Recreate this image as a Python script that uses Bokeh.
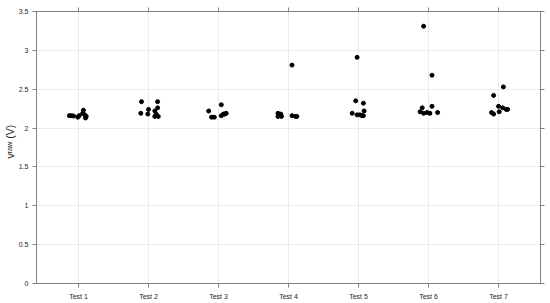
from bokeh.plotting import figure
from bokeh.models import FixedTicker, LinearAxis, Range1d, ColumnDataSource
from bokeh.embed import file_html
from bokeh.resources import INLINE

# ---- data ----
test_labels = ["Test 1", "Test 2", "Test 3", "Test 4", "Test 5", "Test 6", "Test 7"]
y_ticks = [0, 0.5, 1, 1.5, 2, 2.5, 3, 3.5]
y_tick_labels = ["0", "0.5", "1", "1.5", "2", "2.5", "3", "3.5"]

# jitter offsets (category units) and v_raw values (V) per test
t1_jit = [-0.13, -0.10, -0.07, -0.01, 0.01, 0.06, 0.07, 0.09, 0.10, 0.11]
t1_val = [2.16, 2.16, 2.155, 2.14, 2.16, 2.19, 2.23, 2.17, 2.13, 2.15]
t2_jit = [-0.10, 0.13, -0.11, -0.01, 0.00, 0.09, 0.13, 0.09, 0.14, 0.11]
t2_val = [2.34, 2.34, 2.19, 2.18, 2.24, 2.22, 2.26, 2.15, 2.15, 2.18]
t3_jit = [-0.14, 0.04, -0.10, -0.06, 0.04, 0.07, 0.09, 0.11]
t3_val = [2.22, 2.30, 2.14, 2.14, 2.16, 2.18, 2.18, 2.19]
t4_jit = [-0.15, -0.15, -0.11, -0.10, 0.05, 0.10, 0.12, 0.05]
t4_val = [2.19, 2.15, 2.18, 2.15, 2.16, 2.15, 2.15, 2.81]
t5_jit = [-0.02, -0.04, 0.07, 0.08, -0.09, -0.02, 0.02, 0.05, 0.07]
t5_val = [2.91, 2.35, 2.32, 2.22, 2.19, 2.17, 2.17, 2.16, 2.16]
t6_jit = [-0.07, 0.05, -0.09, 0.05, -0.12, -0.07, -0.02, 0.02, 0.13]
t6_val = [3.31, 2.68, 2.26, 2.28, 2.21, 2.19, 2.20, 2.19, 2.20]
t7_jit = [0.07, -0.07, 0.00, 0.06, 0.11, 0.13, 0.01, -0.10, -0.07]
t7_val = [2.53, 2.42, 2.28, 2.26, 2.24, 2.24, 2.21, 2.20, 2.18]

y_label_main = "v"
y_label_sub = "raw"
y_label_unit = "(V)"

groups = [(t1_jit, t1_val), (t2_jit, t2_val), (t3_jit, t3_val), (t4_jit, t4_val),
          (t5_jit, t5_val), (t6_jit, t6_val), (t7_jit, t7_val)]
xs, ys = [], []
for i, (jit, val) in enumerate(groups):
    for j, v in zip(jit, val):
        xs.append(i + 1 + j)
        ys.append(v)
src = ColumnDataSource(dict(x=xs, y=ys))

FONT = "Liberation Sans"
AX = "#808080"
TXT = "#262626"
NB = "\u00a0"

p = figure(width=550, height=303, output_backend="svg", toolbar_location=None,
           x_range=Range1d(0.4, 7.6), y_range=Range1d(0, 3.5),
           min_border_left=36, min_border_right=10, min_border_top=11, min_border_bottom=20,
           x_axis_location="below", y_axis_location="left")
p.outline_line_color = AX
p.outline_line_width = 1
p.background_fill_color = "white"
p.border_fill_color = "white"

tick_x = list(range(1, len(test_labels) + 1))
p.xaxis.ticker = FixedTicker(ticks=tick_x)
p.xaxis.major_label_overrides = {k: lab for k, lab in zip(tick_x, test_labels)}
p.yaxis.ticker = FixedTicker(ticks=y_ticks)
p.yaxis.major_label_overrides = {k: lab for k, lab in zip(y_ticks, y_tick_labels)}

for ax in (p.xaxis[0], p.yaxis[0]):
    ax.axis_line_color = AX
    ax.major_tick_line_color = AX
    ax.major_tick_out = 4
    ax.major_tick_in = 0
    ax.minor_tick_line_color = None
    ax.major_label_text_font = FONT
    ax.major_label_text_font_size = "7px"
    ax.major_label_text_color = TXT
p.xaxis.major_label_standoff = 5
p.yaxis.major_label_standoff = 4

# subscript part of the y title, on the tick axis
p.yaxis.axis_label = y_label_sub
p.yaxis.axis_label_text_font = FONT
p.yaxis.axis_label_text_font_size = "7.5px"
p.yaxis.axis_label_text_font_style = "normal"
p.yaxis.axis_label_text_color = TXT
p.yaxis.axis_label_standoff = 2

# main part of the y title on an outer, tick-less axis
outer = LinearAxis(ticker=FixedTicker(ticks=[]), axis_line_color=None,
                   major_tick_line_color=None, minor_tick_line_color=None,
                   major_tick_out=0, major_tick_in=0,
                   major_label_text_font_size="0px", major_label_standoff=0,
                   axis_label=NB * 4 + y_label_main + NB * 5 + y_label_unit,
                   axis_label_text_font=FONT, axis_label_text_font_size="10.5px",
                   axis_label_text_font_style="normal", axis_label_text_color=TXT,
                   axis_label_standoff=-14)
p.add_layout(outer, "left")

# box axes on top and right with ticks only
top = LinearAxis(ticker=FixedTicker(ticks=tick_x), major_label_text_font_size="0px",
                 major_label_standoff=0, axis_line_color=AX, major_tick_line_color=AX,
                 major_tick_out=4, major_tick_in=0, minor_tick_line_color=None)
right = LinearAxis(ticker=FixedTicker(ticks=y_ticks), major_label_text_font_size="0px",
                   major_label_standoff=0, axis_line_color=AX, major_tick_line_color=AX,
                   major_tick_out=4, major_tick_in=0, minor_tick_line_color=None)
top.major_label_overrides = {k: "" for k in tick_x}
right.major_label_overrides = {k: "" for k in y_ticks}
p.add_layout(top, "above")
p.add_layout(right, "right")

p.xgrid.ticker = FixedTicker(ticks=tick_x)
p.ygrid.ticker = FixedTicker(ticks=y_ticks)
p.grid.grid_line_color = "#ebebeb"
p.grid.grid_line_width = 1

p.scatter("x", "y", source=src, size=4.0, fill_color="black", line_color="black")

open("out.html", "w").write(file_html(p, INLINE))
